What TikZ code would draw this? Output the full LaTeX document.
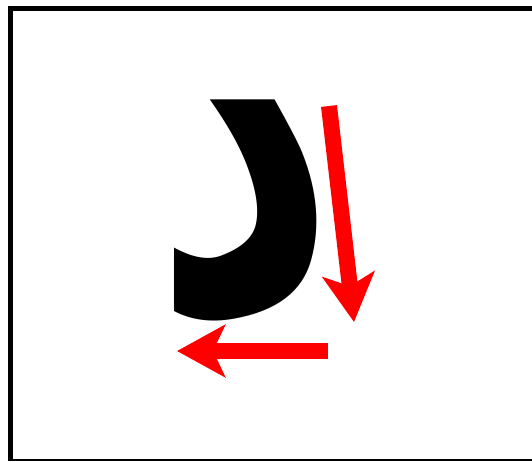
\documentclass[tikz,border=0pt]{standalone}
\usepackage{fontspec}
\newfontfamily\arabicfont[Script=Arabic]{DejaVu Sans}
\TeXXeTstate=1
\usetikzlibrary{arrows.meta}
\definecolor{strokered}{RGB}{255,0,0}
\tikzset{
  frame/.style={draw=black, line width=4.5pt},
  strokearrow/.style={draw=strokered, line width=16pt,
    -{Stealth[length=48pt, width=52pt, inset=12pt]}},
  letter/.style={inner sep=0pt, font=\arabicfont\bfseries\fontsize{300}{300}\selectfont}
}
\begin{document}
\begin{tikzpicture}[x=1pt, y=-1pt]
  \useasboundingbox (0,0) rectangle (532,461);
  \draw[frame] (532,8.5) -- (10.5,8.5) -- (10.5,461);
  \draw[black, line width=2pt] (10.5,460) -- (532,460);
  \node[letter] (dal) at (245,212.5) {\scalebox{1.2}[1.7]{\beginR د\endR}};
  \coordinate (downstart) at (329,106);
  \coordinate (downend) at (354,322);
  \coordinate (leftstart) at (328,351);
  \coordinate (leftend) at (177,351);
  \draw[strokearrow] (downstart) -- (downend);
  \draw[strokearrow] (leftstart) -- (leftend);
\end{tikzpicture}
\end{document}
